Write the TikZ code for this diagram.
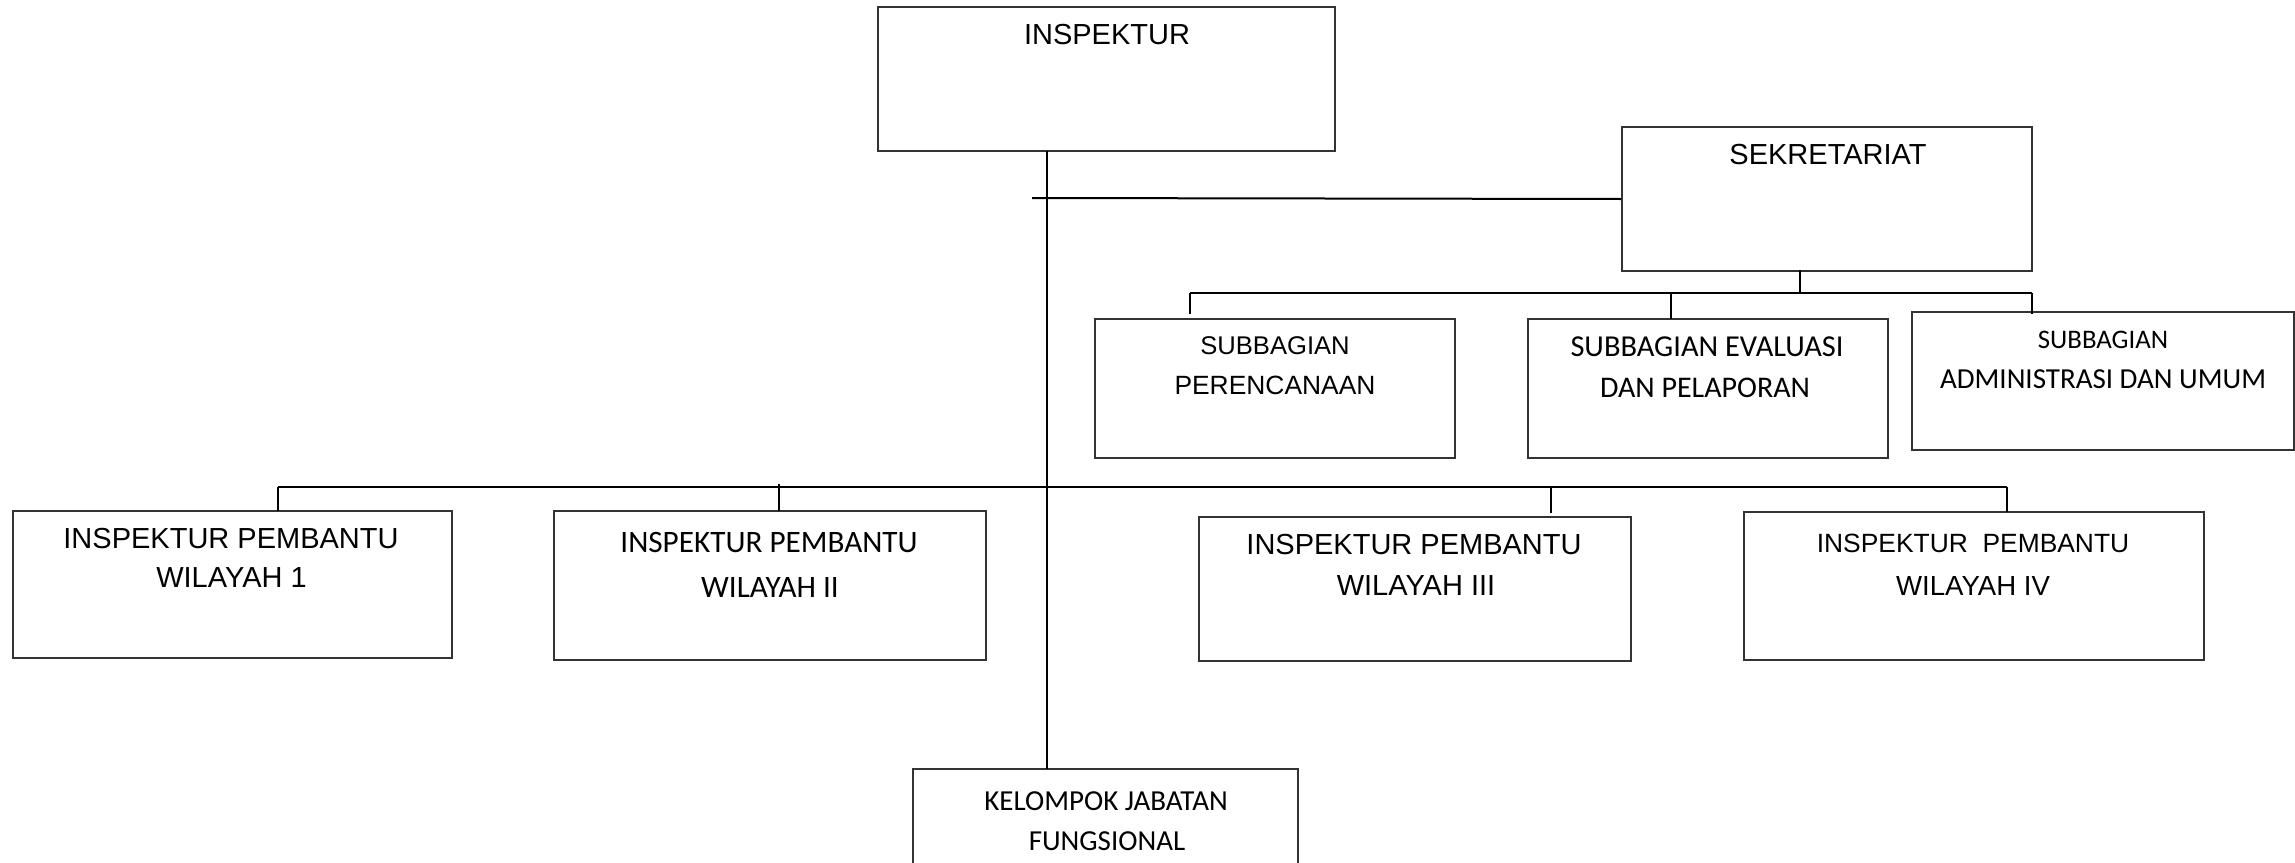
\documentclass[tikz,border=0pt]{standalone}
\usepackage{fontspec}
\setmainfont{Liberation Sans}
\newfontfamily\calfont{Carlito}
\begin{document}
\begin{tikzpicture}[x=0.5pt,y=-0.5pt,
  box/.style={draw=black!80,line width=0.7pt,inner sep=0pt,fill=none},
  arl/.style={inner sep=0pt,anchor=center,font=\fontsize{14.5pt}{17pt}\selectfont},
  cal/.style={inner sep=0pt,anchor=center,font=\calfont\fontsize{14.5pt}{17pt}\selectfont},
  bus/.style={line width=1pt,black},
  drop/.style={line width=0.6pt,black}]
\useasboundingbox (0,0) rectangle (2295,862);
\clip (0,0) rectangle (2295,862);
% boxes
\node[box,minimum width=228.5pt,minimum height=72pt] (insp) at (1106.5,79) {};
\node[box,minimum width=205pt,minimum height=72pt] (sek) at (1827,199) {};
\node[box,minimum width=180pt,minimum height=69.5pt] (sp) at (1275,388.5) {};
\node[box,minimum width=180pt,minimum height=69.5pt] (se) at (1708,388.5) {};
\node[box,minimum width=191pt,minimum height=69pt] (sa) at (2103,381) {};
\node[box,minimum width=219.5pt,minimum height=73.5pt] (ipa) at (232.5,584.5) {};
\node[box,minimum width=216pt,minimum height=74.5pt] (ipb) at (770,585.5) {};
\node[box,minimum width=216pt,minimum height=72pt] (ipc) at (1415,589) {};
\node[box,minimum width=230pt,minimum height=74pt] (ipd) at (1974,586) {};
\node[box,minimum width=192.5pt,minimum height=65.5pt] (kel) at (1105.5,834.5) {};
% texts
\node[arl] (tinsp) at (1107,35) {INSPEKTUR};
\node[arl] (tsek) at (1828,155) {SEKRETARIAT};
\node[arl,font=\fontsize{12.8pt}{15pt}\selectfont] (tspa) at (1275,346) {SUBBAGIAN};
\node[arl,font=\fontsize{13.2pt}{15pt}\selectfont] (tspb) at (1275,385) {PERENCANAAN};
\node[cal,font=\calfont\fontsize{15.2pt}{17pt}\selectfont] (tsea) at (1707,347) {SUBBAGIAN EVALUASI};
\node[cal,font=\calfont\fontsize{15pt}{17pt}\selectfont] (tseb) at (1705,388) {DAN PELAPORAN};
\node[cal,font=\calfont\fontsize{13.4pt}{15pt}\selectfont] (tsaa) at (2103,340) {SUBBAGIAN};
\node[cal] (tsab) at (2103,379) {ADMINISTRASI DAN UMUM};
\node[arl] (tipaa) at (231,539) {INSPEKTUR PEMBANTU};
\node[arl] (tipab) at (231.5,578) {WILAYAH 1};
\node[cal,font=\calfont\fontsize{15.6pt}{17pt}\selectfont] (tipba) at (769,542.5) {INSPEKTUR PEMBANTU};
\node[cal,font=\calfont\fontsize{15.6pt}{17pt}\selectfont] (tipbb) at (770,587.5) {WILAYAH II};
\node[arl] (tipca) at (1414,545) {INSPEKTUR PEMBANTU};
\node[arl] (tipcb) at (1416,586) {WILAYAH III};
\node[arl,font=\fontsize{13.2pt}{15pt}\selectfont] (tipda) at (1973,543) {INSPEKTUR\ \ PEMBANTU};
\node[arl,font=\fontsize{13.8pt}{15pt}\selectfont] (tipdb) at (1973,586) {WILAYAH IV};
\node[cal] (tkela) at (1106,801) {KELOMPOK JABATAN};
\node[cal] (tkelb) at (1107,841) {FUNGSIONAL};
% junction coordinates
\coordinate (trtop) at (1047,151);
\coordinate (trbot) at (1047,769);
\coordinate (sekl) at (1032,198);
\coordinate (stemtop) at (1800,270);
\coordinate (subl) at (1190,293);
\coordinate (subm) at (1671,293);
\coordinate (subr) at (2032,293);
\coordinate (submid) at (1800,293);
\coordinate (dspa) at (1190,314);
\coordinate (dsea) at (1671,319);
\coordinate (dsaa) at (2032,314);
\coordinate (busl) at (278,487);
\coordinate (busr) at (2007,487);
\coordinate (bb) at (779,484);
\coordinate (bbe) at (779,511);
\coordinate (bc) at (1551,487);
\coordinate (bce) at (1551,513);
\coordinate (bde) at (2007,512);
\coordinate (bae) at (278,511);
% connectors
\draw[bus] (trtop) -- (trbot);
\draw[bus] (sekl) -- (sek.west);
\draw[drop] (stemtop) -- (submid);
\draw[bus] (subl) -- (subr);
\draw[drop] (subl) -- (dspa);
\draw[drop] (subm) -- (dsea);
\draw[drop] (subr) -- (dsaa);
\draw[bus] (busl) -- (busr);
\draw[drop] (busl) -- (bae);
\draw[drop] (bb) -- (bbe);
\draw[drop] (bc) -- (bce);
\draw[drop] (busr) -- (bde);
\end{tikzpicture}
\end{document}
